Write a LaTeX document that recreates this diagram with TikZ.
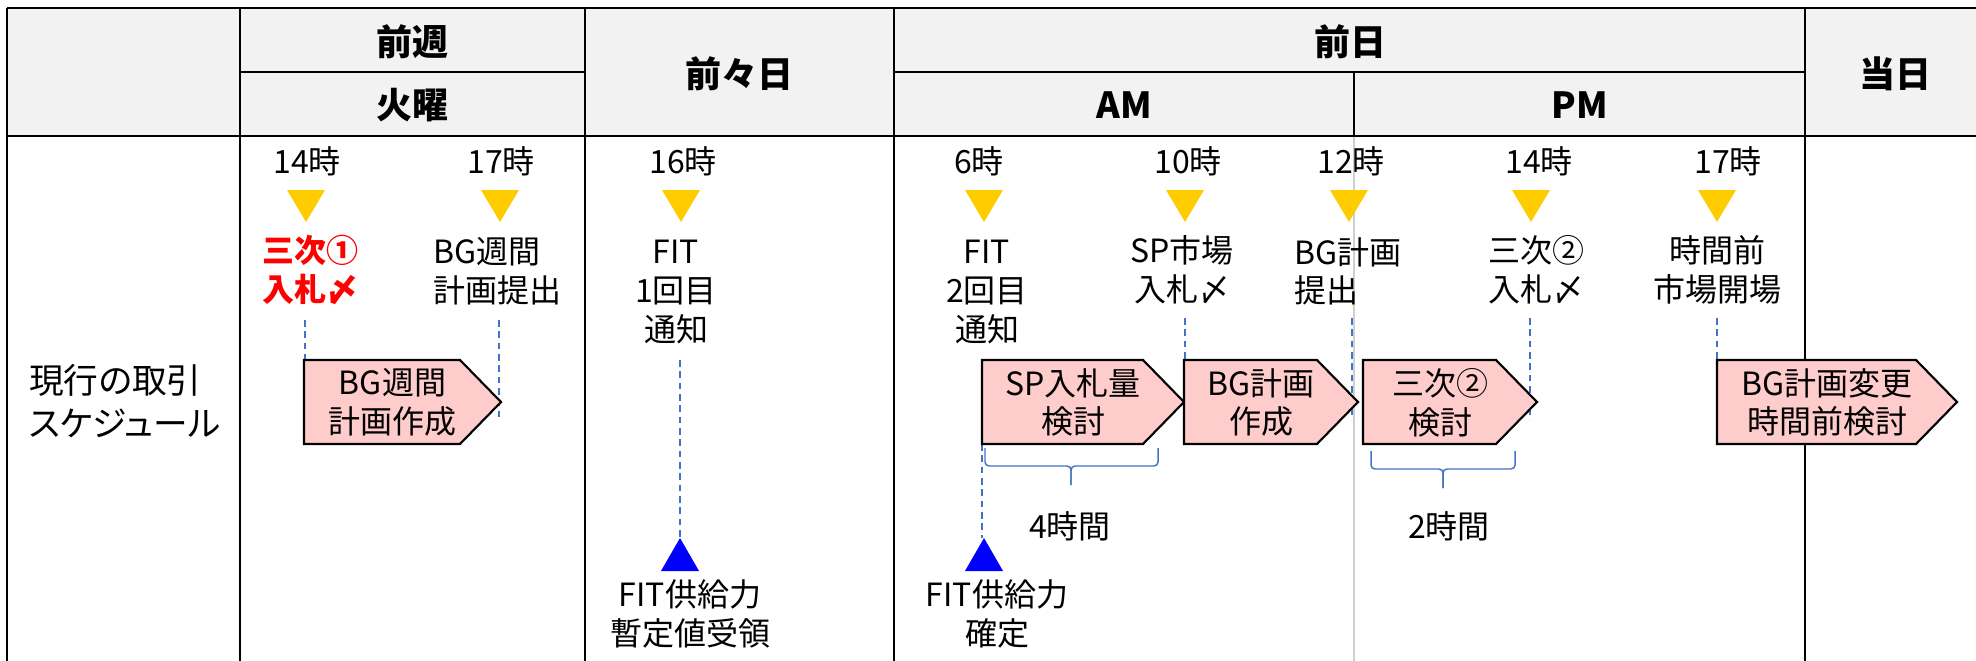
\documentclass[tikz,border=0pt]{standalone}
\usepackage{fontspec}
\setmainfont{Noto Sans CJK JP}
\newfontfamily\jpp{Noto Sans CJK JP}[RawFeature=+palt]
\definecolor{hdrgray}{HTML}{F2F2F2}
\definecolor{tyellow}{HTML}{FFCC00}
\definecolor{tblue}{HTML}{0000FF}
\definecolor{pinkB}{HTML}{FFCCCC}
\definecolor{dblue}{HTML}{4472C4}
\definecolor{lgray}{HTML}{CFCFCF}
\definecolor{tred}{HTML}{FF0000}
\newcommand\chevbox[5]{%
  \draw[chevst] (#2,360) -- ({#3-41},360) -- (#3,402) -- ({#3-41},444) -- (#2,444) -- cycle;
  \node[txt] (#1) at ({(#2+#3)/2-10},402.5) {#4\\#5};}
\newcommand\ytri[2]{\fill[tyellow] ({#2-19},190) -- ({#2+19},190) -- (#2,222) -- cycle; \coordinate (#1) at (#2,206);}
\newcommand\btri[2]{\fill[tblue] ({#2-19},571) -- ({#2+19},571) -- (#2,538) -- cycle; \coordinate (#1) at (#2,555);}
\newcommand\cph{\vphantom{国}}
\begin{document}
\begin{tikzpicture}[x=0.75pt,y=-0.75pt,
  tbl/.style={line width=1.9pt,black},
  hdr/.style={font=\fontsize{27}{32}\selectfont\bfseries,inner sep=0},
  txt/.style={font=\fontsize{24}{29}\selectfont,align=center,inner sep=0},
  txtl/.style={font=\fontsize{24}{29}\selectfont,align=left,inner sep=0},
  vdash/.style={draw=dblue,line width=0.8pt,dash pattern=on 5pt off 3.5pt},
  chevst/.style={draw=black,fill=pinkB,line width=1.6pt,line join=miter},
  brace/.style={draw=dblue,line width=1.1pt,rounded corners=3pt}]
\useasboundingbox (0,0) rectangle (1976,660);
\clip (0,0) rectangle (1976,660);
% header background
\fill[hdrgray] (7,8) rectangle (1995,136);
% light gray AM/PM divider in body
\draw[lgray,line width=1.6pt] (1354,136) -- (1354,670);
% table lines
\draw[tbl] (7,8) -- (1995,8);
\draw[tbl] (7,136) -- (1995,136);
\draw[tbl] (240,72) -- (585,72);
\draw[tbl] (894,72) -- (1805,72);
\foreach \xx in {7,240,585,894,1805} \draw[tbl] (\xx,8) -- (\xx,670);
\draw[tbl] (1354,72) -- (1354,136);
% header texts
\node[hdr] (hw) at (412,42) {前週};
\node[hdr] (hwd) at (412,105) {火曜};
\node[hdr] (hdd) at (739,74) {前々日};
\node[hdr] (hd) at (1350,42) {前日};
\node[hdr] (ham) at (1124,105) {AM};
\node[hdr] (hpm) at (1580,105) {PM};
\node[hdr] (ht) at (1895,74) {当日};
% row label
\node[anchor=west,inner sep=0,align=left,font=\fontsize{26}{32.3}\selectfont\jpp] (row) at (29,401.5) {現行の取引\\スケジュール};
% dashed guide lines
\draw[vdash] (305,320) -- (305,360);
\draw[vdash] (499,320) -- (499,420);
\draw[vdash] (680,360) -- (680,538);
\draw[vdash] (982,444) -- (982,538);
\draw[vdash] (1185,318) -- (1185,359);
\draw[vdash] (1352,318) -- (1352,420);
\draw[vdash] (1530,318) -- (1530,420);
\draw[vdash] (1717,318) -- (1717,359);
% yellow triangles
\ytri{y1}{306}\ytri{y2}{500}\ytri{y3}{681}\ytri{y4}{984}
\ytri{y5}{1185}\ytri{y6}{1349}\ytri{y7}{1531}\ytri{y8}{1717}
% blue triangles
\btri{b1}{680}\btri{b2}{984}
% time labels
\node[txt] (t1) at (307,161) {14時};
\node[txt] (t2) at (501,161) {17時};
\node[txt] (t3) at (683,161) {16時};
\node[txt] (t4) at (979,161) {6時};
\node[txt] (t5) at (1188,161) {10時};
\node[txt] (t6) at (1351,161) {12時};
\node[txt] (t7) at (1539,161) {14時};
\node[txt] (t8) at (1728,161) {17時};
% event labels
\node[txt,text=tred,font=\fontsize{24}{29}\selectfont\bfseries] (l1) at (310,270) {三次①\\入札〆};
\node[txtl,anchor=north west] (l2) at (433,237) {BG週間\\計画提出};
\node[txt] (l3) at (676,291) {\cph FIT\\1回目\\通知};
\node[txt] (l4) at (987,291) {\cph FIT\\2回目\\通知};
\node[txt] (l5) at (1182,270) {SP市場\\入札〆};
\node[txtl,anchor=north west] (l6) at (1294,237) {BG計画\\提出};
\node[txt] (l7) at (1536,270) {三次②\\入札〆};
\node[txt] (l8) at (1717,270) {時間前\\市場開場};
% blue labels
\node[txt] (f1) at (690,614) {FIT供給力\\暫定値受領};
\node[txt] (f2) at (997,614) {FIT供給力\\確定};
% chevron boxes
\chevbox{c1}{304}{501}{BG週間}{計画作成}
\chevbox{c2}{982}{1184}{SP入札量}{検討}
\chevbox{c3}{1184}{1358}{BG計画}{作成}
\chevbox{c4}{1363}{1537}{三次②}{検討}
\chevbox{c5}{1717}{1957}{BG計画変更}{時間前検討}
% braces
\draw[brace] (985,448) -- (985,466) -- (1071,466) -- (1071,485);
\draw[brace] (1071,485) -- (1071,466) -- (1158,466) -- (1158,448);
\draw[brace] (1371,451) -- (1371,469) -- (1443,469) -- (1443,488);
\draw[brace] (1443,488) -- (1443,469) -- (1515,469) -- (1515,451);
\node[txt] (d1) at (1070,526) {4時間};
\node[txt] (d2) at (1449,526) {2時間};
\end{tikzpicture}
\end{document}
